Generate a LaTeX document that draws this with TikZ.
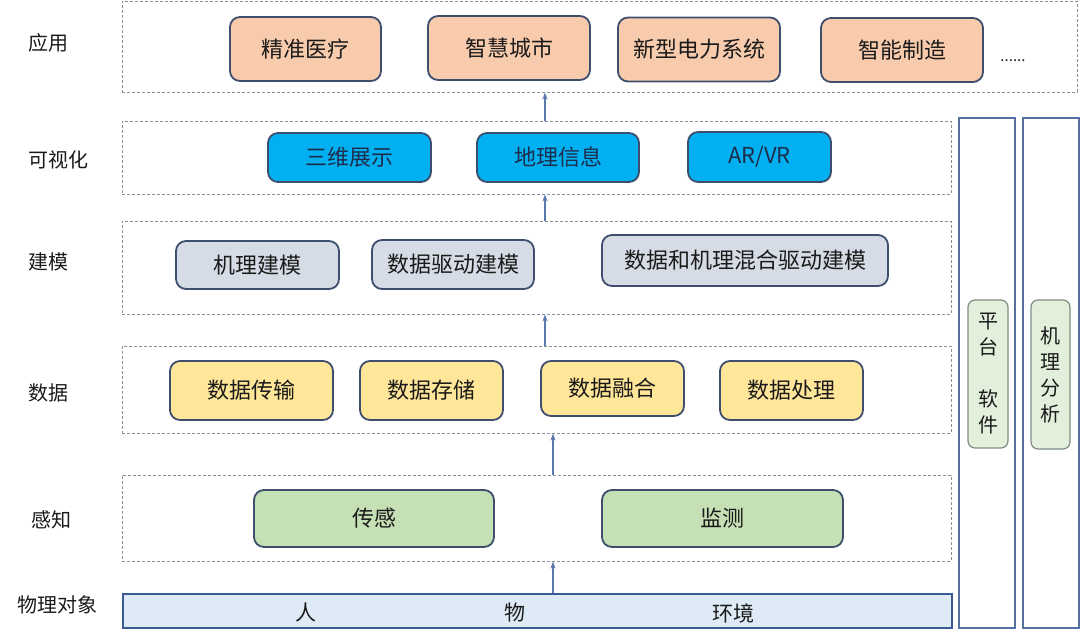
\documentclass[tikz,border=0pt]{standalone}
\usepackage{fontspec}
\setmainfont{Noto Sans CJK SC}
\usetikzlibrary{arrows.meta}
\definecolor{bordc}{HTML}{3E4F6E}
\definecolor{appc}{HTML}{F8CBAD}
\definecolor{visc}{HTML}{00B0F0}
\definecolor{modc}{HTML}{D6DCE5}
\definecolor{datc}{HTML}{FFE699}
\definecolor{senc}{HTML}{C5E0B4}
\definecolor{barc}{HTML}{DEEBF7}
\definecolor{barb}{HTML}{3A5A93}
\definecolor{sidec}{HTML}{E2EFDA}
\definecolor{sideb}{HTML}{7F8C85}
\definecolor{colb}{HTML}{5670A0}
\definecolor{arrc}{HTML}{5A79AD}
\definecolor{dashc}{HTML}{8A8F98}
\definecolor{txtc}{HTML}{1A1A1A}
\definecolor{vistxt}{HTML}{1F2D4D}
\tikzset{
  box/.style={draw=bordc, line width=1.8pt, rounded corners=10pt, inner sep=0pt,
    font=\fontsize{22}{24}\selectfont, text=txtc},
  appbox/.style={box, fill=appc, minimum height=64pt},
  visbox/.style={box, fill=visc, text=vistxt, minimum height=49pt},
  modbox/.style={box, fill=modc, minimum height=48pt},
  datbox/.style={box, fill=datc},
  senbox/.style={box, fill=senc, minimum height=57pt},
  layer/.style={draw=dashc, dashed, dash pattern=on 3pt off 2pt, line width=0.9pt, inner sep=0pt},
  lab/.style={font=\fontsize{20}{24}\selectfont, text=txtc},
  bartxt/.style={font=\fontsize{21}{24}\selectfont, text=txtc},
  colbox/.style={draw=colb, line width=1.5pt, inner sep=0pt},
  sidebox/.style={draw=sideb, line width=1.2pt, fill=sidec, rounded corners=7pt, inner sep=0pt,
    align=center, font=\fontsize{20}{26}\selectfont, text=txtc},
  arr/.style={draw=arrc, line width=1.5pt, -{Stealth[length=7pt,width=5pt]}}
}
\begin{document}
\begin{tikzpicture}[x=1pt,y=-1pt]
\useasboundingbox (0,0) rectangle (1080,639);
% layers
\node[layer, minimum width=955pt, minimum height=91pt] (L1) at (599.5,46.5) {};
\node[layer, minimum width=829pt, minimum height=73pt] (L2) at (536.5,157.5) {};
\node[layer, minimum width=829pt, minimum height=93pt] (L3) at (536.5,267.5) {};
\node[layer, minimum width=829pt, minimum height=87pt] (L4) at (536.5,389.5) {};
\node[layer, minimum width=829pt, minimum height=86pt] (L5) at (536.5,518) {};
\node[draw=barb, line width=1.8pt, fill=barc, inner sep=0pt, minimum width=829pt, minimum height=34pt] (bar) at (537.5,611) {};
% right columns
\node[colbox, minimum width=56pt, minimum height=510pt] (C1) at (987,373) {};
\node[colbox, minimum width=56pt, minimum height=510pt] (C2) at (1051,373) {};
\node[sidebox, minimum width=40pt, minimum height=148pt] (S1) at (988,374) {平\\台\\[26pt]软\\件};
\node[sidebox, minimum width=39pt, minimum height=149pt] (S2) at (1050.5,374.5) {机\\理\\分\\析};
% left labels
\node[lab] (t1) at (48,43) {应用};
\node[lab] (t2) at (58,160) {可视化};
\node[lab] (t3) at (48,262) {建模};
\node[lab] (t4) at (48,393) {数据};
\node[lab] (t5) at (51,520) {感知};
\node[lab] (t6) at (57,605) {物理对象};
% application
\node[appbox, minimum width=151pt] (a1) at (305.5,49) {精准医疗};
\node[appbox, minimum width=162pt] (a2) at (509,48) {智慧城市};
\node[appbox, minimum width=162pt] (a3) at (699,49.5) {新型电力系统};
\node[appbox, minimum width=162pt] (a4) at (902,50) {智能制造};
\node[font=\fontsize{15}{18}\selectfont, text=txtc] (a5) at (1013,61) {......};
% visualization
\node[visbox, minimum width=163pt] (v1) at (349.5,157.5) {三维展示};
\node[visbox, minimum width=162pt] (v2) at (558,157.5) {地理信息};
\node[visbox, minimum width=143pt, minimum height=50pt] (v3) at (759.5,157) {AR/VR};
% modelling
\node[modbox, minimum width=163pt] (m1) at (257.5,265) {机理建模};
\node[modbox, minimum width=162pt, minimum height=49pt] (m2) at (453,264.5) {数据驱动建模};
\node[modbox, minimum width=286pt, minimum height=51pt] (m3) at (745,260.5) {数据和机理混合驱动建模};
% data
\node[datbox, minimum width=163pt, minimum height=59pt] (d1) at (251.5,390.5) {数据传输};
\node[datbox, minimum width=143pt, minimum height=59pt] (d2) at (431.5,390.5) {数据存储};
\node[datbox, minimum width=143pt, minimum height=55pt] (d3) at (612.5,388.5) {数据融合};
\node[datbox, minimum width=143pt, minimum height=59pt] (d4) at (791.5,390.5) {数据处理};
% sensing
\node[senbox, minimum width=240pt] (s1) at (374,518.5) {传感};
\node[senbox, minimum width=241pt] (s2) at (722.5,518.5) {监测};
% bar texts
\node[bartxt] (b1) at (306,613) {人};
\node[bartxt] (b2) at (515,613) {物};
\node[bartxt] (b3) at (733,613) {环境};
% arrows
\coordinate (ax1) at (545,0);
\coordinate (ax2) at (553,0);
\draw[arr] (L2.north -| ax1) -- (L1.south -| ax1);
\draw[arr] (L3.north -| ax1) -- (L2.south -| ax1);
\draw[arr] (L4.north -| ax1) -- (L3.south -| ax1);
\draw[arr] (L5.north -| ax2) -- (L4.south -| ax2);
\draw[arr] (bar.north -| ax2) -- (L5.south -| ax2);
\end{tikzpicture}
\end{document}
